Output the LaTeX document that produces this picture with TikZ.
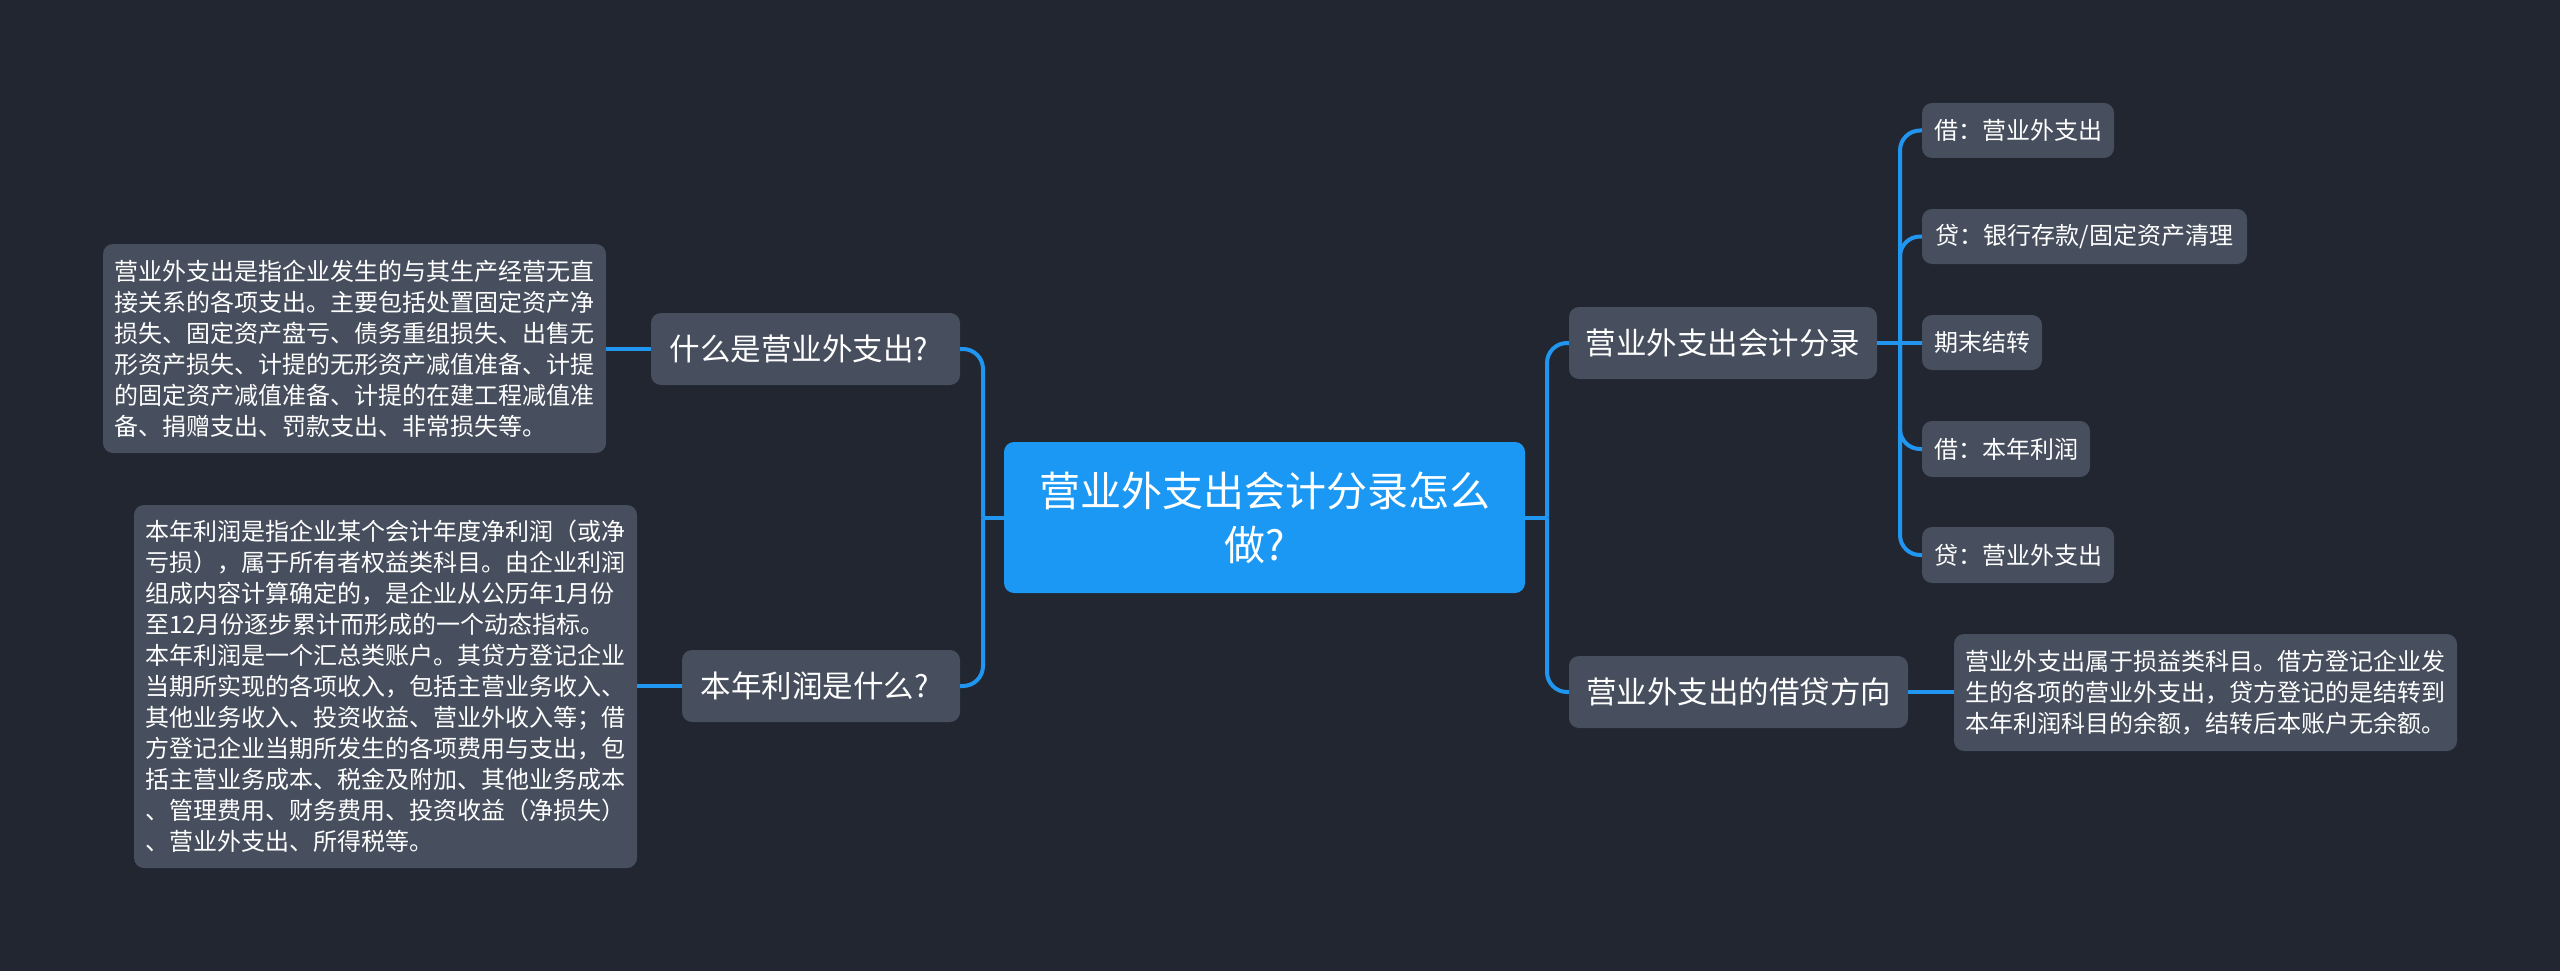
\documentclass[tikz,border=0pt]{standalone}
\usepackage{fontspec}
\setmainfont{Noto Sans CJK SC}
\newcommand{\qcomma}{\char"FF0C\relax}
\newcommand{\qcolon}{\char"FF1A\relax}
\newcommand{\qsemi}{\char"FF1B\relax}
\newcommand{\qlp}{\char"FF08\relax}
\newcommand{\qrp}{\char"FF09\relax}
\definecolor{bgc}{HTML}{212631}
\definecolor{nodec}{HTML}{474F5E}
\definecolor{rootc}{HTML}{1A98F4}
\definecolor{linec}{HTML}{2196F0}
\tikzset{
  x=1pt,y=-1pt,
  box/.style={fill=nodec,text=white,rounded corners=10pt,inner sep=0pt,align=center,font=\fontsize{24}{31}\selectfont},
  rootbox/.style={box,fill=rootc,font=\fontsize{41}{54}\selectfont},
  mainbox/.style={box,font=\fontsize{30.5}{38}\selectfont},
  leafbox/.style={box},
  descbox/.style={box,align=left},
  conn/.style={draw=linec,line width=4pt,rounded corners=20pt},
}
\newcommand{\nbox}[7]{\node[#1,minimum width=#5-#4,minimum height=#7-#6,anchor=center] (#2) at ({(#4+#5)/2},{(#6+#7)/2}) {#3};}
\begin{document}
\begin{tikzpicture}
\useasboundingbox[fill=bgc] (0,0) rectangle (2560,971);
\coordinate (tr) at (1547,517.5);
\coordinate (tl) at (983,517.5);
\coordinate (tb) at (1900,343);
\nbox{rootbox}{root}{营业外支出会计分录怎么\\\mbox{做?\kern20pt}}{1004}{1525}{442}{593}
\nbox{mainbox}{q1}{\mbox{什么是营业外支出?\kern13pt}}{651}{960}{313}{385}
\nbox{mainbox}{q2}{\mbox{本年利润是什么?\kern13pt}}{682}{960}{650}{722}
\nbox{mainbox}{b1}{营业外支出会计分录}{1569}{1877}{307}{379}
\nbox{mainbox}{b2}{营业外支出的借贷方向}{1569}{1908}{656}{728}
\nbox{descbox}{d1}{营业外支出是指企业发生的与其生产经营无直\\接关系的各项支出。主要包括处置固定资产净\\损失、固定资产盘亏、债务重组损失、出售无\\形资产损失、计提的无形资产减值准备、计提\\的固定资产减值准备、计提的在建工程减值准\\备、捐赠支出、罚款支出、非常损失等。}{103}{606}{244}{453}
\nbox{descbox}{d2}{本年利润是指企业某个会计年度净利润\qlp 或净\\亏损\qrp\qcomma 属于所有者权益类科目。由企业利润\\组成内容计算确定的\qcomma 是企业从公历年1月份\\至12月份逐步累计而形成的一个动态指标。\\本年利润是一个汇总类账户。其贷方登记企业\\当期所实现的各项收入\qcomma 包括主营业务收入、\\其他业务收入、投资收益、营业外收入等\qsemi 借\\方登记企业当期所发生的各项费用与支出\qcomma 包\\括主营业务成本、税金及附加、其他业务成本\\、管理费用、财务费用、投资收益\qlp 净损失\qrp\\、营业外支出、所得税等。}{134}{637}{505}{868}
\nbox{descbox}{d3}{营业外支出属于损益类科目。借方登记企业发\\生的各项的营业外支出\qcomma 贷方登记的是结转到\\本年利润科目的余额\qcomma 结转后本账户无余额。}{1954}{2457}{634}{751}
\nbox{leafbox}{l1}{借\qcolon 营业外支出}{1922}{2114}{103}{158}
\nbox{leafbox}{l2}{贷\qcolon 银行存款/固定资产清理}{1922}{2247}{209}{264}
\nbox{leafbox}{l3}{期末结转}{1922}{2042}{315}{370}
\nbox{leafbox}{l4}{借\qcolon 本年利润}{1922}{2090}{421}{477}
\nbox{leafbox}{l5}{贷\qcolon 营业外支出}{1922}{2114}{527}{583}
\draw[conn] (root.east) -- (tr);
\draw[conn] (root.west) -- (tl);
\draw[conn] (tr) |- (b1.west);
\draw[conn] (tr) |- (b2.west);
\draw[conn] (tl) |- (q1.east);
\draw[conn] (tl) |- (q2.east);
\draw[conn] (q1.west) -- (d1.east |- q1.west);
\draw[conn] (q2.west) -- (d2.east |- q2.west);
\draw[conn] (b2.east) -- (d3.west |- b2.east);
\draw[conn] (b1.east) -- (tb);
\draw[conn] (tb) |- (l1.west);
\draw[conn] (tb) |- (l2.west);
\draw[conn] (tb) -- (l3.west |- tb);
\draw[conn] (tb) |- (l4.west);
\draw[conn] (tb) |- (l5.west);
\end{tikzpicture}
\end{document}
